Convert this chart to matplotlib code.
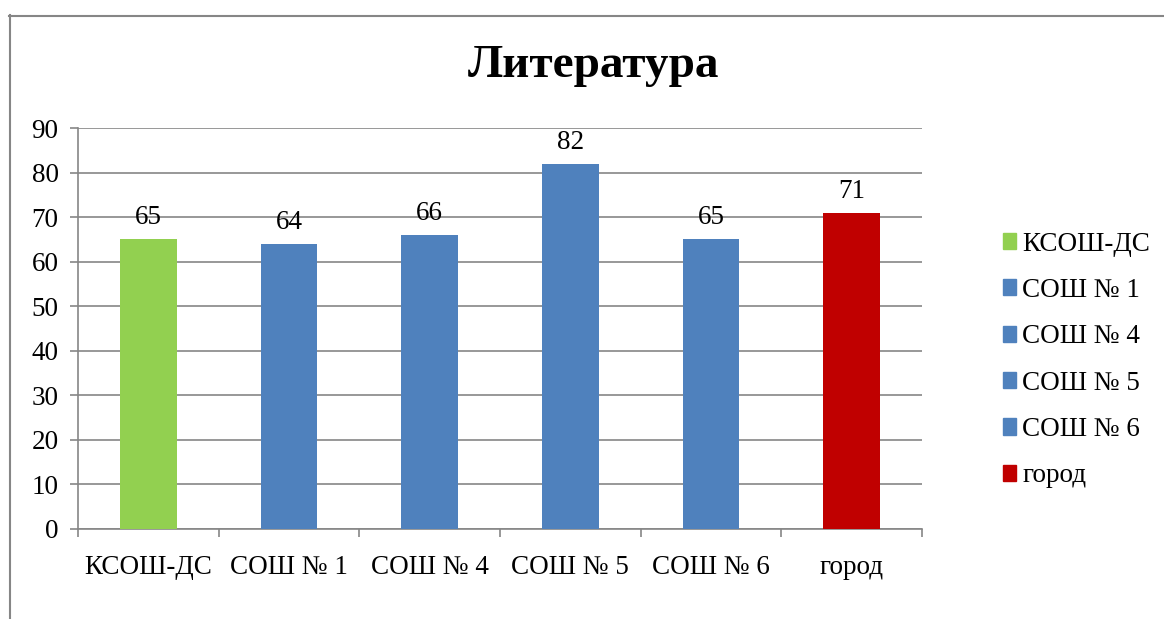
import matplotlib.pyplot as plt
from matplotlib.patches import Patch
from matplotlib.lines import Line2D

schools = ['КСОШ-ДС', 'СОШ № 1', 'СОШ № 4', 'СОШ № 5', 'СОШ № 6', 'город']
scores = [65, 64, 66, 82, 65, 71]
colors = ['#92D050', '#4F81BD', '#4F81BD', '#4F81BD', '#4F81BD', '#C00000']
yticks = [0, 10, 20, 30, 40, 50, 60, 70, 80, 90]

plt.rcParams['font.family'] = ['Liberation Serif', 'DejaVu Serif']
fs = 19.5

fig = plt.figure(figsize=(11.64, 6.19), dpi=100)
ax = fig.add_axes([78/1164, 90/619, 844/1164, 401/619])

x = range(len(schools))
ax.bar(x, scores, width=0.405, color=colors, zorder=3)
for i, v in enumerate(scores):
    ax.text(i, v + 2.0, str(v), ha='center', va='bottom', fontsize=fs)

ax.set_xlim(-0.5, len(schools) - 0.5)
ax.set_ylim(0, 90)
ax.set_yticks(yticks)
ax.set_xticks(list(x))
ax.set_xticklabels(schools, fontsize=fs)
ax.set_xticks([i - 0.5 for i in range(len(schools) + 1)], minor=True)
ax.tick_params(axis='x', which='major', length=0, pad=19)
ax.tick_params(axis='x', which='minor', length=6, color='#868686', width=1.2)
ax.tick_params(axis='y', labelsize=fs, length=6, color='#868686', width=1.2, pad=8)
ax.grid(axis='y', color='#868686', linewidth=1.2, zorder=0)
for s in ['top', 'right']:
    ax.spines[s].set_visible(False)
for s in ['left', 'bottom']:
    ax.spines[s].set_color('#868686')
    ax.spines[s].set_linewidth(1.2)

fig.text(594/1164, 1 - 66/619, 'Литература', ha='center', va='center',
         fontsize=34, fontweight='bold')

handles = [Patch(color=c, label=l) for c, l in zip(colors, schools)]
fig.legend(handles=handles, loc='center left', bbox_to_anchor=(979/1164, 1 - 360/619),
           frameon=False, fontsize=fs, handlelength=0.45, handleheight=0.55,
           handletextpad=0.25, labelspacing=0.79)

# outer chart border (left and top visible)
fig.add_artist(Line2D([9.5/1164, 9.5/1164], [0, 1 - 15/619], color='#868686', lw=1.5))
fig.add_artist(Line2D([9/1164, 1], [1 - 15.5/619, 1 - 15.5/619], color='#868686', lw=1.5))

fig.savefig('out.png', dpi=100)
